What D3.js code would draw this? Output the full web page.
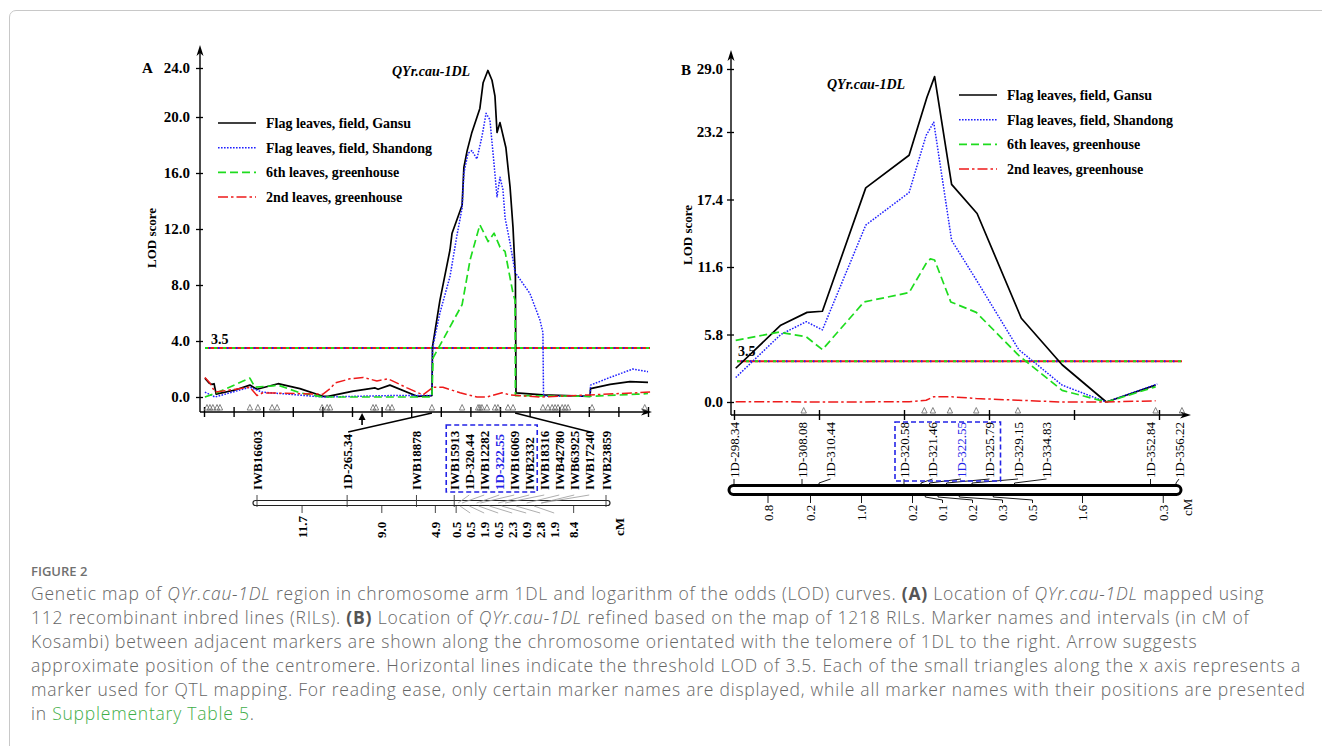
<!DOCTYPE html>
<html><head><meta charset="utf-8">
<script src="https://cdn.jsdelivr.net/npm/d3@7/dist/d3.min.js"></script>
<style>
body{margin:0;background:#fff;width:1322px;height:746px;overflow:hidden;position:relative;}
#frame{position:absolute;left:9px;top:10px;width:1340px;height:820px;border:1px solid #c8c8c8;border-radius:7px;box-sizing:border-box;}
svg{position:absolute;left:0;top:0;}
#fig{position:absolute;left:31px;top:562px;font-family:'Open Sans',sans-serif;font-size:13px;font-weight:600;color:#707070;}
#cap{position:absolute;left:31px;top:581px;font-family:'Open Sans',sans-serif;font-size:17.5px;font-weight:300;letter-spacing:0.78px;line-height:24px;color:#666;white-space:nowrap;}
#cap b{color:#555;font-weight:700;}
#cap .g{color:#3fae49;}
</style></head><body>
<div id="frame"></div>
<svg id="chart" width="1322" height="746"></svg>
<div id="fig">FIGURE 2</div>
<div id="cap"></div>
<script>
// ---------------- DATA ----------------
const seriesNames = ["Flag leaves, field, Gansu","Flag leaves, field, Shandong","6th leaves, greenhouse","2nd leaves, greenhouse"];
const qtlName = "QYr.cau-1DL";

// Panel A : [position along LOD axis (cM), LOD]
const gansuA = [[0.3,1.35],[1.7,1.0],[2.7,0.9],[3.4,0.95],[4.1,0.2],[10.5,0.5],[15.5,0.85],[17.9,0.55],[25.0,0.95],[32.4,0.6],[40.2,0.05],[41.9,0.05],[50.0,0.4],[57.8,0.65],[58.8,0.55],[62.8,0.85],[72.0,0.05],[77.0,0.1],[77.2,3.6],[79.7,6.9],[83.1,10.5],[83.8,11.7],[87.2,13.7],[87.8,16.4],[88.9,17.6],[90.5,18.9],[93.2,20.7],[94.3,22.8],[95.9,23.8],[97.3,23.0],[98.3,21.7],[99.0,18.9],[100.0,19.6],[102.0,17.8],[103.4,15.0],[104.4,12.1],[105.1,9.0],[105.2,8.6],[105.4,0.3],[114.5,0.15],[130.4,0.05],[130.6,0.6],[137.2,0.9],[143.9,1.1],[150.0,1.05]];
const shandongA = [[0.3,0.35],[3.7,0.0],[15.5,0.7],[19.6,0.35],[40.2,0.0],[62.8,0.1],[77.0,0.1],[77.2,3.5],[79.7,6.0],[83.1,8.6],[85.5,11.6],[87.2,13.5],[87.8,16.0],[89.2,17.4],[90.5,17.6],[92.2,17.0],[93.9,18.6],[95.3,20.3],[96.6,19.8],[99.0,14.3],[100.0,15.7],[101.0,14.8],[101.7,12.8],[103.4,11.0],[105.1,8.9],[110.1,7.4],[113.5,5.5],[114.5,4.6],[114.7,0.05],[130.4,0.05],[130.6,0.85],[137.2,1.4],[144.9,2.0],[150.0,1.8]];
const sixthA = [[0.3,0.0],[4.4,0.3],[15.5,1.35],[17.2,0.7],[23.3,0.8],[25.0,0.85],[32.4,0.3],[40.2,0.0],[77.0,0.0],[77.4,2.8],[87.2,6.6],[89.9,9.8],[93.2,12.3],[96.0,11.1],[98.0,11.7],[100.0,10.7],[101.7,10.4],[104.4,7.4],[105.1,6.9],[105.2,0.1],[130.4,0.05],[146.3,0.2],[150.0,0.25]];
const secondA = [[0.3,1.4],[2.0,1.0],[3.7,0.35],[15.5,0.7],[17.9,0.1],[19.9,0.3],[40.2,0.2],[42.6,0.6],[44.3,1.0],[49.3,1.3],[53.7,1.4],[58.4,1.15],[62.2,1.3],[68.6,0.65],[74.0,0.15],[77.4,0.7],[80.7,0.7],[86.5,0.3],[92.2,0.0],[95.6,0.0],[100.7,0.3],[103.4,0.15],[113.5,0.0],[130.4,0.15],[146.3,0.3],[150.7,0.35]];
const trianglesA = [1.0,2.0,3.0,4.4,5.4,15.5,18.2,23.0,24.7,39.9,41.6,42.6,57.1,58.1,62.2,63.5,77.0,87.2,92.6,93.2,93.9,95.6,98.3,99.3,102.7,104.4,114.5,116.2,117.6,118.6,119.6,121.0,122.0,123.0,131.1,148.9];
const centromereA = 53.4;
const linkA = [77.0, 105.1];           // LOD-axis positions joined to the map
const yTicksA = [0,4,8,12,16,20,24];
const markersA = ["IWB16603","1D-265.34","IWB18878","IWB15913","1D-320.44","IWB12282","1D-322.55","IWB16069","IWB2332","IWB18316","IWB42780","IWB63925","IWB17240","IWB23859"];
const markerCmA = [0,11.7,20.7,25.6,26.1,26.6,28.5,29.0,31.3,32.2,35.0,36.9,36.9,45.3];
const intervalsA = ["11.7","9.0","4.9","0.5","0.5","1.9","0.5","2.3","0.9","2.8","1.9","8.4"];
const boxedA = ["IWB15913","IWB2332"];
const linkMarkersA = ["1D-265.34","IWB17240"];

// Panel B
const gansuB = [[0.02,2.9],[0.55,6.6],[0.86,7.7],[1.04,7.8],[1.55,18.4],[2.06,21.2],[2.27,26.4],[2.36,28.3],[2.56,18.7],[2.86,16.2],[3.38,7.2],[3.86,3.2],[4.38,0.0],[4.96,1.45]];
const shandongB = [[0.02,2.1],[0.55,5.8],[0.85,6.9],[1.04,6.2],[1.55,15.2],[2.06,18.0],[2.26,22.9],[2.35,24.1],[2.56,13.9],[2.85,10.5],[3.35,4.5],[3.86,1.45],[4.38,0.0],[4.98,1.55]];
const sixthB = [[0.02,5.3],[0.53,6.0],[0.85,5.6],[1.04,4.5],[1.53,8.6],[2.06,9.4],[2.26,11.9],[2.31,12.3],[2.36,12.2],[2.55,8.6],[2.85,7.7],[3.35,4.0],[3.86,1.0],[4.38,0.0],[4.96,1.3]];
const secondB = [[0.02,0.03],[1.04,0.0],[2.06,0.02],[2.26,0.15],[2.35,0.45],[2.56,0.45],[2.85,0.3],[3.35,0.15],[3.86,0.0],[4.38,0.0],[4.96,0.1]];
const trianglesB = [0.82,2.24,2.34,2.54,2.85,3.34,4.96,5.27];
const yTicksB = [0,5.8,11.6,17.4,23.2,29.0];
const markersB = ["1D-298.34","1D-308.08","1D-310.44","1D-320.58","1D-321.46","1D-322.55","1D-325.79","1D-329.15","1D-334.83","1D-352.84","1D-356.22"];
const intervalsB = ["0.8","0.2","1.0","0.2","0.1","0.2","0.3","0.5","1.6","0.3"];
const boxedB = ["1D-320.58","1D-325.79"];
const threshold = 3.5;
const highlight = "1D-322.55";

// ---------------- STYLE ----------------
const colors = ["#000000","#2020ff","#1edc1e","#ee1a1a"];
const dashes = [null,"1.6,1.4","8,4","10,3,2.5,3"];
const widths = [1.7,1.5,1.7,1.5];
const serif = "'Liberation Serif','Times New Roman',serif";
const svg = d3.select("#chart");

function arrowUp(g,x,y){g.append("path").attr("d",`M${x},${y} L${x-3.5},${y+11} L${x},${y+8} L${x+3.5},${y+11} Z`).attr("fill","#000");}
function arrowRight(g,x,y){g.append("path").attr("d",`M${x},${y} L${x-11},${y-3.5} L${x-8},${y} L${x-11},${y+3.5} Z`).attr("fill","#000");}

function spreadForward(desired,gap,startIdx){
  const out = desired.slice();
  for(let i=startIdx;i<out.length;i++){ if(i>0) out[i]=Math.max(desired[i], out[i-1]+gap); }
  return out;
}

function panel(cfg){
  const g = svg.append("g").attr("font-family",serif);
  const {x,y,axisX,axisY,yTop,xEnd} = cfg;
  g.append("line").attr("x1",axisX).attr("x2",axisX).attr("y1",axisY).attr("y2",yTop+6).attr("stroke","#000").attr("stroke-width",1.4);
  arrowUp(g,axisX,yTop);
  const ya = g.append("g").attr("transform",`translate(${axisX},0)`)
    .call(d3.axisLeft(y).tickValues(cfg.yTicks).tickFormat(d=>d.toFixed(1)).tickSizeInner(4).tickSizeOuter(0).tickPadding(cfg.tickPad));
  ya.select(".domain").remove();
  ya.selectAll(".tick line").attr("x1",3).attr("stroke-width",1.3);
  ya.selectAll(".tick text").attr("font-family",serif).attr("font-weight","bold").attr("font-size",cfg.tickFont).attr("fill","#000");
  g.append("line").attr("x1",axisX).attr("x2",xEnd-6).attr("y1",axisY).attr("y2",axisY).attr("stroke","#000").attr("stroke-width",1.4);
  arrowRight(g,xEnd,axisY);
  const xa = g.append("g").attr("transform",`translate(0,${axisY})`)
    .call(d3.axisBottom(x).tickValues(cfg.xTicks).tickFormat("").tickSizeInner(5).tickSizeOuter(0));
  xa.select(".domain").remove();
  xa.selectAll(".tick line").attr("y1",-5).attr("stroke-width",1.4);
  g.selectAll(".tri").data(cfg.triangles).join("path")
    .attr("d",d=>`M${x(d)-2.7},${axisY-2} L${x(d)},${axisY-7.5} L${x(d)+2.7},${axisY-2} Z`)
    .attr("fill","none").attr("stroke","#666").attr("stroke-width",0.8);
  const ty = y(threshold);
  g.append("line").attr("x1",cfg.thrX[0]).attr("x2",cfg.thrX[1]).attr("y1",ty).attr("y2",ty).attr("stroke",colors[3]).attr("stroke-width",1.8);
  g.append("line").attr("x1",cfg.thrX[0]).attr("x2",cfg.thrX[1]).attr("y1",ty).attr("y2",ty).attr("stroke",colors[2]).attr("stroke-width",1.8).attr("stroke-dasharray","3,6");
  g.append("line").attr("x1",cfg.thrX[0]).attr("x2",cfg.thrX[1]).attr("y1",ty).attr("y2",ty).attr("stroke",colors[1]).attr("stroke-width",1.8).attr("stroke-dasharray","1.5,7.5").attr("stroke-dashoffset",-4);
  g.append("text").attr("x",cfg.thrLabelX).attr("y",ty-cfg.thrLabelDy).attr("font-weight","bold").attr("font-size",14).text("3.5");
  const line = d3.line().x(d=>x(d[0])).y(d=>y(d[1]));
  cfg.series.forEach((s,i)=>{
    g.append("path").attr("d",line(s)).attr("fill","none").attr("stroke",colors[i]).attr("stroke-width",widths[i])
      .attr("stroke-dasharray",dashes[i]).attr("stroke-linejoin","round");
  });
  g.append("text").attr("x",cfg.panelLabel[1]).attr("y",cfg.panelLabel[2]).attr("font-size",15).attr("font-weight","bold").text(cfg.panelLabel[0]);
  g.append("text").attr("transform",`translate(${cfg.lodX},${cfg.lodY}) rotate(-90)`).attr("text-anchor","middle").attr("font-size",13).attr("font-weight","bold").text("LOD score");
  g.append("text").attr("x",cfg.qtl[0]).attr("y",cfg.qtl[1]).attr("font-size",14).attr("font-weight","bold").attr("font-style","italic").text(qtlName);
  seriesNames.forEach((n,i)=>{
    const ly = cfg.legend[1]+i*cfg.legend[2];
    g.append("line").attr("x1",cfg.legend[0]).attr("x2",cfg.legend[0]+38).attr("y1",ly).attr("y2",ly)
      .attr("stroke",colors[i]).attr("stroke-width",widths[i]).attr("stroke-dasharray",dashes[i]);
    g.append("text").attr("x",cfg.legend[0]+48).attr("y",ly+5).attr("font-size",14).attr("font-weight","bold").text(n);
  });
  return g;
}

// ---------------- PANEL A ----------------
const xA = d3.scaleLinear().domain([0,150]).range([204,648]);
const yA = d3.scaleLinear().domain([0,20,24]).range([397,117,68]);
const gA = panel({x:xA,y:yA,axisX:200,axisY:412,yTop:45,xEnd:652,yTicks:yTicksA,xTicks:d3.range(0,151,10),
  tickPad:6,tickFont:15,triangles:trianglesA,thrX:[205,650],thrLabelX:211,thrLabelDy:4,
  series:[gansuA,shandongA,sixthA,secondA],panelLabel:["A",142,73],lodX:156,lodY:238,qtl:[392,76],legend:[218,123,24.7]});
gA.append("line").attr("x1",xA(centromereA)).attr("x2",xA(centromereA)).attr("y1",425).attr("y2",418).attr("stroke","#000").attr("stroke-width",1.6);
gA.append("path").attr("d",`M${xA(centromereA)},${413} l-3.5,7 l7,0 Z`).attr("fill","#000");

const mapA = d3.scaleLinear().domain([0,45.3]).range([257,606]);
const chromYA = 503;
const mPosA = markerCmA.map(d=>mapA(d));
const labXA = spreadForward(mPosA,15,1);
gA.append("rect").attr("x",253).attr("y",chromYA-2.5).attr("width",357).attr("height",5).attr("rx",2.5)
  .attr("fill","#fff").attr("stroke","#222").attr("stroke-width",1.2);
markersA.forEach((m,i)=>{
  const mx=mPosA[i], lx=labXA[i];
  if(Math.abs(mx-lx)<1.5){
    gA.append("line").attr("x1",mx).attr("x2",mx).attr("y1",495).attr("y2",chromYA+4).attr("stroke","#333").attr("stroke-width",0.9);
  } else {
    gA.append("path").attr("d",`M${mx},${chromYA} L${lx},${495}`).attr("fill","none").attr("stroke","#999").attr("stroke-width",0.8);
  }
  gA.append("text").attr("transform",`translate(${lx+4.5},490) rotate(-90)`).attr("font-size",13).attr("font-weight","bold")
    .attr("fill",m===highlight?"#2323e6":"#000").text(m);
});
{
  const i0=markersA.indexOf(boxedA[0]), i1=markersA.indexOf(boxedA[1]);
  gA.append("rect").attr("x",labXA[i0]-8).attr("y",425).attr("width",labXA[i1]-labXA[i0]+16).attr("height",67)
    .attr("fill","none").attr("stroke","#2323e6").attr("stroke-width",1.6).attr("stroke-dasharray","5,3");
}
gA.append("line").attr("x1",labXA[markersA.indexOf(linkMarkersA[0])]+1).attr("y1",432).attr("x2",xA(linkA[0])).attr("y2",413).attr("stroke","#000").attr("stroke-width",1.4);
gA.append("line").attr("x1",xA(linkA[1])).attr("y1",413).attr("x2",labXA[markersA.indexOf(linkMarkersA[1])]+1).attr("y2",432).attr("stroke","#000").attr("stroke-width",1.4);
{
  const uniq = [0]; intervalsA.forEach(v=>uniq.push(uniq[uniq.length-1]+(+v)));
  const mids = intervalsA.map((v,i)=>mapA((uniq[i]+uniq[i+1])/2));
  const lab = spreadForward(mids,14,1);
  intervalsA.forEach((v,i)=>{
    if(Math.abs(mids[i]-lab[i])<1.5){
      gA.append("line").attr("x1",mids[i]).attr("x2",mids[i]).attr("y1",chromYA+3).attr("y2",513).attr("stroke","#333").attr("stroke-width",0.9);
    } else {
      gA.append("path").attr("d",`M${mids[i]},${chromYA+3} L${lab[i]},${513}`).attr("fill","none").attr("stroke","#999").attr("stroke-width",0.8);
    }
    gA.append("text").attr("transform",`translate(${lab[i]+4.5},538) rotate(-90)`).attr("font-size",13).attr("font-weight","bold").text(v);
  });
  gA.append("text").attr("transform",`translate(${624},536) rotate(-90)`).attr("font-size",13).attr("font-weight","bold").text("cM");
}

// ---------------- PANEL B ----------------
const xB = d3.scaleLinear().domain([0,5.2]).range([734,1176]);
const yB = d3.scaleLinear().domain([0,23.2,29]).range([402,132,69]);
const gB = panel({x:xB,y:yB,axisX:731,axisY:415,yTop:50,xEnd:1191,yTicks:yTicksB,xTicks:d3.range(0,5.01,1),
  tickPad:4,tickFont:15,triangles:trianglesB,thrX:[737,1182],thrLabelX:738,thrLabelDy:5,
  series:[gansuB,shandongB,sixthB,secondB],panelLabel:["B",681,75],lodX:692,lodY:235,qtl:[827,89],legend:[959,95,24.7]});

const chromYB = 490;
const mPosB = []; { let c=0; mPosB.push(xB(0)); intervalsB.forEach(v=>{c+= +v; mPosB.push(xB(c));}); }
const labXB = spreadForward(mPosB,28.5,1);
markersB.forEach((m,i)=>{
  const mx=mPosB[i], lx=labXB[i];
  gB.append("path").attr("d",`M${mx},${chromYB} V${483} L${lx},${479}`).attr("fill","none").attr("stroke","#000").attr("stroke-width",0.9);
  gB.append("text").attr("transform",`translate(${lx+4.5},478) rotate(-90)`).attr("font-size",13)
    .attr("fill",m===highlight?"#2323e6":"#000").text(m);
});
gB.append("rect").attr("x",xB(0)-5).attr("y",chromYB-4.5).attr("width",xB(5.2)-xB(0)+10).attr("height",9).attr("rx",4.5)
  .attr("fill","#fff").attr("stroke","#000").attr("stroke-width",3);
{
  const i0=markersB.indexOf(boxedB[0]), i1=markersB.indexOf(boxedB[1]);
  gB.append("rect").attr("x",labXB[i0]-9).attr("y",422).attr("width",labXB[i1]-labXB[i0]+20).attr("height",59)
    .attr("fill","none").attr("stroke","#2323e6").attr("stroke-width",1.6).attr("stroke-dasharray","5,3");
}
{
  const mids = intervalsB.map((v,i)=>(mPosB[i]+mPosB[i+1])/2);
  const lab = spreadForward(mids,30,1);
  intervalsB.forEach((v,i)=>{
    gB.append("path").attr("d",`M${mids[i]},${chromYB+5} V${497} L${lab[i]},${500} V${503}`).attr("fill","none").attr("stroke","#000").attr("stroke-width",0.9);
    gB.append("text").attr("transform",`translate(${lab[i]+4.5},521) rotate(-90)`).attr("font-size",13).text(v);
  });
  gB.append("text").attr("transform",`translate(${1192},516) rotate(-90)`).attr("font-size",13).text("cM");
}

// ---------------- CAPTION ----------------
const capLines = [
 'Genetic map of <i>QYr.cau-1DL</i> region in chromosome arm 1DL and logarithm of the odds (LOD) curves. <b>(A)</b> Location of <i>QYr.cau-1DL</i> mapped using',
 '112 recombinant inbred lines (RILs). <b>(B)</b> Location of <i>QYr.cau-1DL</i> refined based on the map of 1218 RILs. Marker names and intervals (in cM of',
 'Kosambi) between adjacent markers are shown along the chromosome orientated with the telomere of 1DL to the right. Arrow suggests',
 'approximate position of the centromere. Horizontal lines indicate the threshold LOD of 3.5. Each of the small triangles along the x axis represents a',
 'marker used for QTL mapping. For reading ease, only certain marker names are displayed, while all marker names with their positions are presented',
 'in <span class="g">Supplementary Table 5</span>.'
];
d3.select("#cap").html(capLines.join("<br>"));
</script>
</body></html>
